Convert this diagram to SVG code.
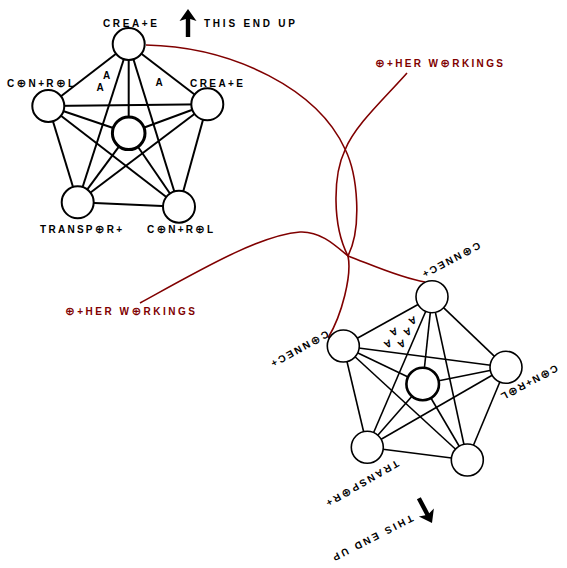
<svg xmlns="http://www.w3.org/2000/svg" width="567" height="568" viewBox="0 0 567 568">
<style>
.lbl{font-family:"Liberation Sans","DejaVu Sans",sans-serif;font-weight:bold;font-size:10px;fill:#000}
.red{font-family:"Liberation Sans","DejaVu Sans",sans-serif;font-weight:bold;font-size:10px;fill:#800000}
.o{font-family:"DejaVu Sans",sans-serif;font-size:11.5px;font-weight:bold}
.a{font-family:"Liberation Sans","DejaVu Sans",sans-serif;font-weight:bold;font-size:10px;fill:#000}
.n{fill:#fff;stroke:#000;stroke-width:2}
.nc{fill:#fff;stroke:#000;stroke-width:3}
.m{fill:#fff;stroke:#000;stroke-width:1.6}
.mc{fill:#fff;stroke:#000;stroke-width:2.6}
.e{stroke:#000;stroke-width:2;fill:none}
.f{stroke:#000;stroke-width:1.6;fill:none}
.r{stroke:#800000;stroke-width:1.6;fill:none}
</style>
<defs>
<path id="arrow" d="M0,0 L8.5,12 L2.2,10 L2.2,28 L-2.2,28 L-2.2,10 L-8.5,12 Z" fill="#000"/>
</defs>
<rect width="567" height="568" fill="#fff"/>
<g id="connectors">
<g id="upper-edges" class="e">
<line x1="128.7" y1="44" x2="48.3" y2="106"/>
<line x1="128.7" y1="44" x2="207.3" y2="104.3"/>
<line x1="128.7" y1="44" x2="128.7" y2="133.3"/>
<line x1="128.7" y1="44" x2="77.7" y2="202.3"/>
<line x1="128.7" y1="44" x2="179" y2="206.7"/>
<line x1="48.3" y1="106" x2="207.3" y2="104.3"/>
<line x1="48.3" y1="106" x2="128.7" y2="133.3"/>
<line x1="48.3" y1="106" x2="77.7" y2="202.3"/>
<line x1="48.3" y1="106" x2="179" y2="206.7"/>
<line x1="207.3" y1="104.3" x2="128.7" y2="133.3"/>
<line x1="207.3" y1="104.3" x2="77.7" y2="202.3"/>
<line x1="207.3" y1="104.3" x2="179" y2="206.7"/>
<line x1="77.7" y1="202.3" x2="179" y2="206.7"/>
<line x1="77.7" y1="202.3" x2="128.7" y2="133.3"/>
<line x1="179" y1="206.7" x2="128.7" y2="133.3"/>
</g>
<g id="lower-edges" class="f">
<line x1="432" y1="296.7" x2="343.3" y2="346"/>
<line x1="432" y1="296.7" x2="506" y2="367.3"/>
<line x1="432" y1="296.7" x2="422.7" y2="384"/>
<line x1="432" y1="296.7" x2="367.3" y2="447.3"/>
<line x1="432" y1="296.7" x2="467.3" y2="460"/>
<line x1="343.3" y1="346" x2="506" y2="367.3"/>
<line x1="343.3" y1="346" x2="422.7" y2="384"/>
<line x1="343.3" y1="346" x2="367.3" y2="447.3"/>
<line x1="343.3" y1="346" x2="467.3" y2="460"/>
<line x1="506" y1="367.3" x2="422.7" y2="384"/>
<line x1="506" y1="367.3" x2="367.3" y2="447.3"/>
<line x1="506" y1="367.3" x2="467.3" y2="460"/>
<line x1="367.3" y1="447.3" x2="467.3" y2="460"/>
<line x1="367.3" y1="447.3" x2="422.7" y2="384"/>
<line x1="467.3" y1="460" x2="422.7" y2="384"/>
</g>
<g id="red-links" class="r">
<path d="M146,45 C235,47 318,90 345,149 C358,175 362,228 348,256 C372,265 400,278 425,282"/>
<path d="M407,73 C385,98 355,125 345,150 C333,175 332,225 348,256 C352,275 342,315 328,338"/>
<path d="M140,303 C200,270 260,235 300,232 C320,231 335,245 348,256"/>
</g>
</g>
<g id="upper-top"><circle class="n" cx="128.7" cy="44" r="16"/><text class="lbl" x="130" y="27" text-anchor="middle" textLength="54" lengthAdjust="spacing">CREA+E</text></g>
<g id="upper-left"><circle class="n" cx="48.3" cy="106" r="16"/><text class="lbl" x="40.5" y="87" text-anchor="middle" textLength="67" lengthAdjust="spacing">C<tspan class="o">⊕</tspan>N+R<tspan class="o">⊕</tspan>L</text></g>
<g id="upper-right"><circle class="n" cx="207.3" cy="104.3" r="16"/><text class="lbl" x="216.5" y="87" text-anchor="middle" textLength="53" lengthAdjust="spacing">CREA+E</text></g>
<g id="upper-center"><circle class="nc" cx="128.7" cy="133.3" r="16.3"/></g>
<g id="upper-bottom-left"><circle class="n" cx="77.7" cy="202.3" r="16"/><text class="lbl" x="81" y="233" text-anchor="middle" textLength="82" lengthAdjust="spacing">TRANSP<tspan class="o">⊕</tspan>R+</text></g>
<g id="upper-bottom-right"><circle class="n" cx="179" cy="206.7" r="16"/><text class="lbl" x="180" y="233" text-anchor="middle" textLength="66" lengthAdjust="spacing">C<tspan class="o">⊕</tspan>N+R<tspan class="o">⊕</tspan>L</text></g>
<g id="upper-marks">
<text class="a" x="106.7" y="78.6" text-anchor="middle">A</text>
<text class="a" x="100" y="90.9" text-anchor="middle">A</text>
<text class="a" x="159" y="85.9" text-anchor="middle">A</text>
</g>
<g id="upper-orientation">
<use href="#arrow" transform="translate(188,9)"/>
<text class="lbl" x="204" y="27" textLength="91" lengthAdjust="spacing">THIS END UP</text>
</g>
<g id="lower-top"><circle class="m" cx="432" cy="296.7" r="16"/><text class="lbl" transform="translate(451.5,260) rotate(152)" x="0" y="3.6" text-anchor="middle" textLength="64" lengthAdjust="spacing">C<tspan class="o">⊕</tspan>NNEC+</text></g>
<g id="lower-left"><circle class="m" cx="343.3" cy="346" r="16"/><text class="lbl" transform="translate(300,349) rotate(151)" x="0" y="3.6" text-anchor="middle" textLength="64" lengthAdjust="spacing">C<tspan class="o">⊕</tspan>NNEC+</text></g>
<g id="lower-right"><circle class="m" cx="506" cy="367.3" r="16"/><text class="lbl" transform="translate(529.5,382.5) rotate(152)" x="0" y="3.6" text-anchor="middle" textLength="63" lengthAdjust="spacing">C<tspan class="o">⊕</tspan>N+R<tspan class="o">⊕</tspan>L</text></g>
<g id="lower-center"><circle class="mc" cx="422.7" cy="384" r="16.3"/></g>
<g id="lower-bottom-left"><circle class="m" cx="367.3" cy="447.3" r="16"/><text class="lbl" transform="translate(362.5,483.5) rotate(150)" x="0" y="3.6" text-anchor="middle" textLength="82" lengthAdjust="spacing">TRANSP<tspan class="o">⊕</tspan>R+</text></g>
<g id="lower-bottom-right"><circle class="m" cx="467.3" cy="460" r="16"/></g>
<g id="lower-marks">
<text class="a" transform="translate(412.7,320.7) rotate(152)" y="3.4" text-anchor="middle" font-size="9.5">A</text>
<text class="a" transform="translate(394,332) rotate(152)" y="3.4" text-anchor="middle" font-size="9.5">A</text>
<text class="a" transform="translate(407.7,332) rotate(152)" y="3.4" text-anchor="middle" font-size="9.5">A</text>
<text class="a" transform="translate(388,344) rotate(152)" y="3.4" text-anchor="middle" font-size="9.5">A</text>
<text class="a" transform="translate(401.7,344) rotate(152)" y="3.4" text-anchor="middle" font-size="9.5">A</text>
</g>
<g id="lower-orientation">
<use href="#arrow" transform="translate(432,523) rotate(152)"/>
<text class="lbl" transform="translate(373,538) rotate(153)" x="0" y="3.6" text-anchor="middle" textLength="89" lengthAdjust="spacing">THIS END UP</text>
</g>
<g id="other-workings-1"><text class="red" x="375" y="66.5" textLength="128" lengthAdjust="spacing"><tspan class="o">⊕</tspan>+HER W<tspan class="o">⊕</tspan>RKINGS</text></g>
<g id="other-workings-2"><text class="red" x="65" y="315" textLength="130" lengthAdjust="spacing"><tspan class="o">⊕</tspan>+HER W<tspan class="o">⊕</tspan>RKINGS</text></g>
</svg>
